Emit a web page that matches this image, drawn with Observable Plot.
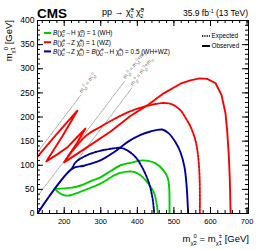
<!DOCTYPE html>
<html><head><meta charset="utf-8">
<script src="https://cdn.jsdelivr.net/npm/d3@7"></script>
<script src="https://cdn.jsdelivr.net/npm/@observablehq/plot@0.6"></script>
<style>body{margin:0;background:#fff} svg{font-family:"Liberation Sans",Arial,sans-serif}</style>
</head><body><div id="chart"></div>
<script>
// ---- data (m_chi2 [GeV], m_chi1 [GeV]) ----
const obsWH = [[178,51],[217,53],[245,58],[270,66],[299,75],[327,88],[354,100],[381,105],[413,110],[430,109],[450,104],[472,89],[483,74],[487,55],[488,30],[488,0]];
const expWH = [[178,48],[190,41],[208,37],[230,41],[254,48],[299,62],[345,82],[377,87],[392,86],[409,79],[427,65],[445,44],[452,23],[455,8],[456,0]];
const obsWZ = [[127,118],[180,165],[236,213],[195,160],[151,108],[180,122],[210,138],[235,158],[258,176],[235,146],[215,124],[200,106],[260,136],[327,170],[381,202],[427,224],[472,249],[518,269],[545,276],[570,280],[591,279],[614,270],[630,246],[641,208],[646,168],[650,122],[653,70],[655,0]];
const expWZ = [[205,112],[258,160],[300,180],[340,197],[381,212],[427,223],[472,229],[495,226],[518,214],[532,198],[545,181],[559,151],[566,120],[570,80],[571,40],[571,0]];
const obsMix = [[127,0],[222,93],[254,99],[299,110],[336,127],[377,150],[409,163],[436,170],[468,174],[486,166],[504,148],[518,127],[529,96],[535,55],[538,15],[539,0]];
const expMix = [[222,93],[231,106],[263,121],[299,130],[336,135],[354,136],[372,131],[395,117],[413,96],[431,65],[441,34],[445,10],[446,0]];
const diagEq = [[127,127],[245,245]];
const diagZ = [[127,36],[365,274]];
const diagH = [[127,2],[385,260]];
const xTicks = [200,300,400,500,600,700];
const yTicks = [0,50,100,150,200,250,300,350,400];
const xMinor = d3.range(140,704,20);
const yMinor = d3.range(0,401,10);

const W = 260, H = 250, mL = 37, mR = 12, mT = 20, mB = 37;
const fw = W - mL - mR, fh = H - mT - mB;
const GREEN = "#00cc00", RED = "#ff0000", BLUE = "#00009c";
const dash = "2.2,1.4";
const X = d => d[0], Y = d => d[1];
const lineOpts = (stroke, dotted) => ({x: X, y: Y, stroke, strokeWidth: 1.9, curve: "catmull-rom", clip: true, strokeDasharray: dotted ? dash : null});
const diagOpts = {x: X, y: Y, stroke: "#888", strokeWidth: 0.7, strokeDasharray: "3,1,1,1", clip: true};

const plot = Plot.plot({
  width: W, height: H, marginLeft: mL, marginRight: mR, marginTop: mT, marginBottom: mB,
  x: {domain: [127, 704], axis: null},
  y: {domain: [0, 400], axis: null},
  marks: [
    Plot.line(diagEq, diagOpts),
    Plot.line(diagZ, diagOpts),
    Plot.line(diagH, diagOpts),
    Plot.line(expWH, lineOpts(GREEN, true)),
    Plot.line(obsWH, lineOpts(GREEN, false)),
    Plot.line(expMix, lineOpts(BLUE, true)),
    Plot.line(obsMix, lineOpts(BLUE, false)),
    Plot.line(expWZ, lineOpts(RED, true)),
    Plot.line(obsWZ, {...lineOpts(RED, false), curve: "linear"}),
    Plot.tickX(xTicks, {x: d => d, insetTop: fh - 6, stroke: "black"}),
    Plot.tickX(xTicks, {x: d => d, insetBottom: fh - 6, stroke: "black"}),
    Plot.tickX(xMinor, {x: d => d, insetTop: fh - 3, stroke: "black"}),
    Plot.tickX(xMinor, {x: d => d, insetBottom: fh - 3, stroke: "black"}),
    Plot.tickY(yTicks, {y: d => d, insetRight: fw - 6, stroke: "black"}),
    Plot.tickY(yTicks, {y: d => d, insetLeft: fw - 6, stroke: "black"}),
    Plot.tickY(yMinor, {y: d => d, insetRight: fw - 3, stroke: "black"}),
    Plot.tickY(yMinor, {y: d => d, insetLeft: fw - 3, stroke: "black"}),
    Plot.axisX(xTicks, {tickSize: 0, tickPadding: 5, fontSize: 7.5, label: null, tickFormat: d => String(d), fill: "black"}),
    Plot.axisY(yTicks, {tickSize: 0, tickPadding: 3, fontSize: 8.5, label: null, tickFormat: d => String(d), fill: "black"}),
    Plot.frame({stroke: "black", strokeWidth: 1})
  ]
});
document.getElementById("chart").appendChild(plot);

const svg = d3.select(plot);
const sx = plot.scale("x"), sy = plot.scale("y");
const CHI = "\u03C7\u0303";

function rich(parent, x, y, parts, o = {}) {
  const size = o.size || 7;
  const t = parent.append("text").attr("x", x).attr("y", y)
    .attr("font-size", size).attr("fill", o.fill || "black")
    .attr("text-anchor", o.anchor || "start")
    .attr("font-family", '"Liberation Sans", Arial, sans-serif');
  if (o.weight) t.attr("font-weight", o.weight);
  if (o.rotate) t.attr("transform", `rotate(${o.rotate},${x},${y})`);
  let cur = 0;
  for (const p of parts) {
    const [s, k = "n", dx = 0] = Array.isArray(p) ? p : [p];
    const target = k === "sub" ? 0.3 * size : k === "sup" ? -0.38 * size : 0;
    const ts = t.append("tspan").text(s).attr("dy", target - cur);
    if (dx) ts.attr("dx", dx);
    cur = target;
    if (k === "sub" || k === "sup") ts.attr("font-size", size * 0.62);
    if (k === "i") ts.attr("font-style", "italic");
  }
  return t;
}
const chi = (sup, sub, s) => [[CHI], [sup, "sup"], [sub, "sub", -s]];

const g = svg.append("g");
// header
rich(g, 37, 18, ["CMS"], {size: 13.5, weight: "bold"});
rich(g, 102, 15, ["pp \u2192 ", ...chi("\u00B1", "1", 3.5), [" "], ...chi("0", "2", 3.5)], {size: 9});
rich(g, 248, 16, ["35.9 fb", ["-1", "sup"], [" (13 TeV)"]], {size: 8.5, anchor: "end"});

// axis titles
rich(g, 249, 242, ["m", ...chi("0", "2", 3.2).map(p => [p[0], "sub", p[2]]).slice(0,1), ["0", "sup"], ["2", "sub", -3.2], [" = m"], [CHI, "sub"], ["\u00B1", "sup"], ["1", "sub", -3.2], [" [GeV]"]], {size: 9.5, anchor: "end"});
rich(g, 12, 20, ["m", [CHI, "sub"], ["0", "sup"], ["1", "sub", -3.2], [" [GeV]"]], {size: 9.5, anchor: "end", rotate: -90});

// legend (left)
const legL = [
  {c: GREEN, parts: [["B", "i"], "(", ...chi("0","2",2.5), "\u2192H ", ...chi("0","1",2.5), ") = 1 (WH)"]},
  {c: RED, parts: [["B", "i"], "(", ...chi("0","2",2.5), "\u2192Z ", ...chi("0","1",2.5), ") = 1 (WZ)"]},
  {c: BLUE, parts: [["B", "i"], "(", ...chi("0","2",2.5), "\u2192Z ", ...chi("0","1",2.5), ") = ", ["B", "i"], "(", ...chi("0","2",2.5), "\u2192H ", ...chi("0","1",2.5), ") = 0.5 (WH+WZ)"]}
];
legL.forEach((e, i) => {
  const yy = 33 + i * 9.2;
  g.append("line").attr("x1", 44).attr("x2", 51).attr("y1", yy).attr("y2", yy).attr("stroke", e.c).attr("stroke-width", 2);
  rich(g, 53, yy + 2.3, e.parts, {size: 6.4});
});
// legend (right)
g.append("line").attr("x1", 202).attr("x2", 210).attr("y1", 36).attr("y2", 36).attr("stroke", "black").attr("stroke-width", 1.6).attr("stroke-dasharray", "1.3,1");
rich(g, 211.5, 38.2, ["Expected"], {size: 6.4});
g.append("line").attr("x1", 202).attr("x2", 210).attr("y1", 46).attr("y2", 46).attr("stroke", "black").attr("stroke-width", 2);
rich(g, 211.5, 48.2, ["Observed"], {size: 6.4});

// diagonal labels
const ang = -Math.atan2(sy.apply(0) - sy.apply(1), sx.apply(1) - sx.apply(0)) * 180 / Math.PI;
const diagLabels = [
  {p: diagEq[1], parts: ["m", [CHI, "sub"], ["0", "sup"], ["1", "sub", -2], " = m", [CHI, "sub"], ["0", "sup"], ["2", "sub", -2]]},
  {p: diagZ[1], parts: ["m", [CHI, "sub"], ["0", "sup"], ["2", "sub", -2], " = m", [CHI, "sub"], ["0", "sup"], ["1", "sub", -2], "+m", ["Z", "sub"]]},
  {p: diagH[1], parts: ["m", [CHI, "sub"], ["0", "sup"], ["2", "sub", -2], " = m", [CHI, "sub"], ["0", "sup"], ["1", "sub", -2], "+m", ["H", "sub"]]}
];
diagLabels.forEach(d => {
  const px = sx.apply(d.p[0]) + 1.5, py = sy.apply(d.p[1]) - 1.5;
  rich(g, px, py, d.parts, {size: 5.6, fill: "#666", rotate: ang});
});
</script></body></html>
